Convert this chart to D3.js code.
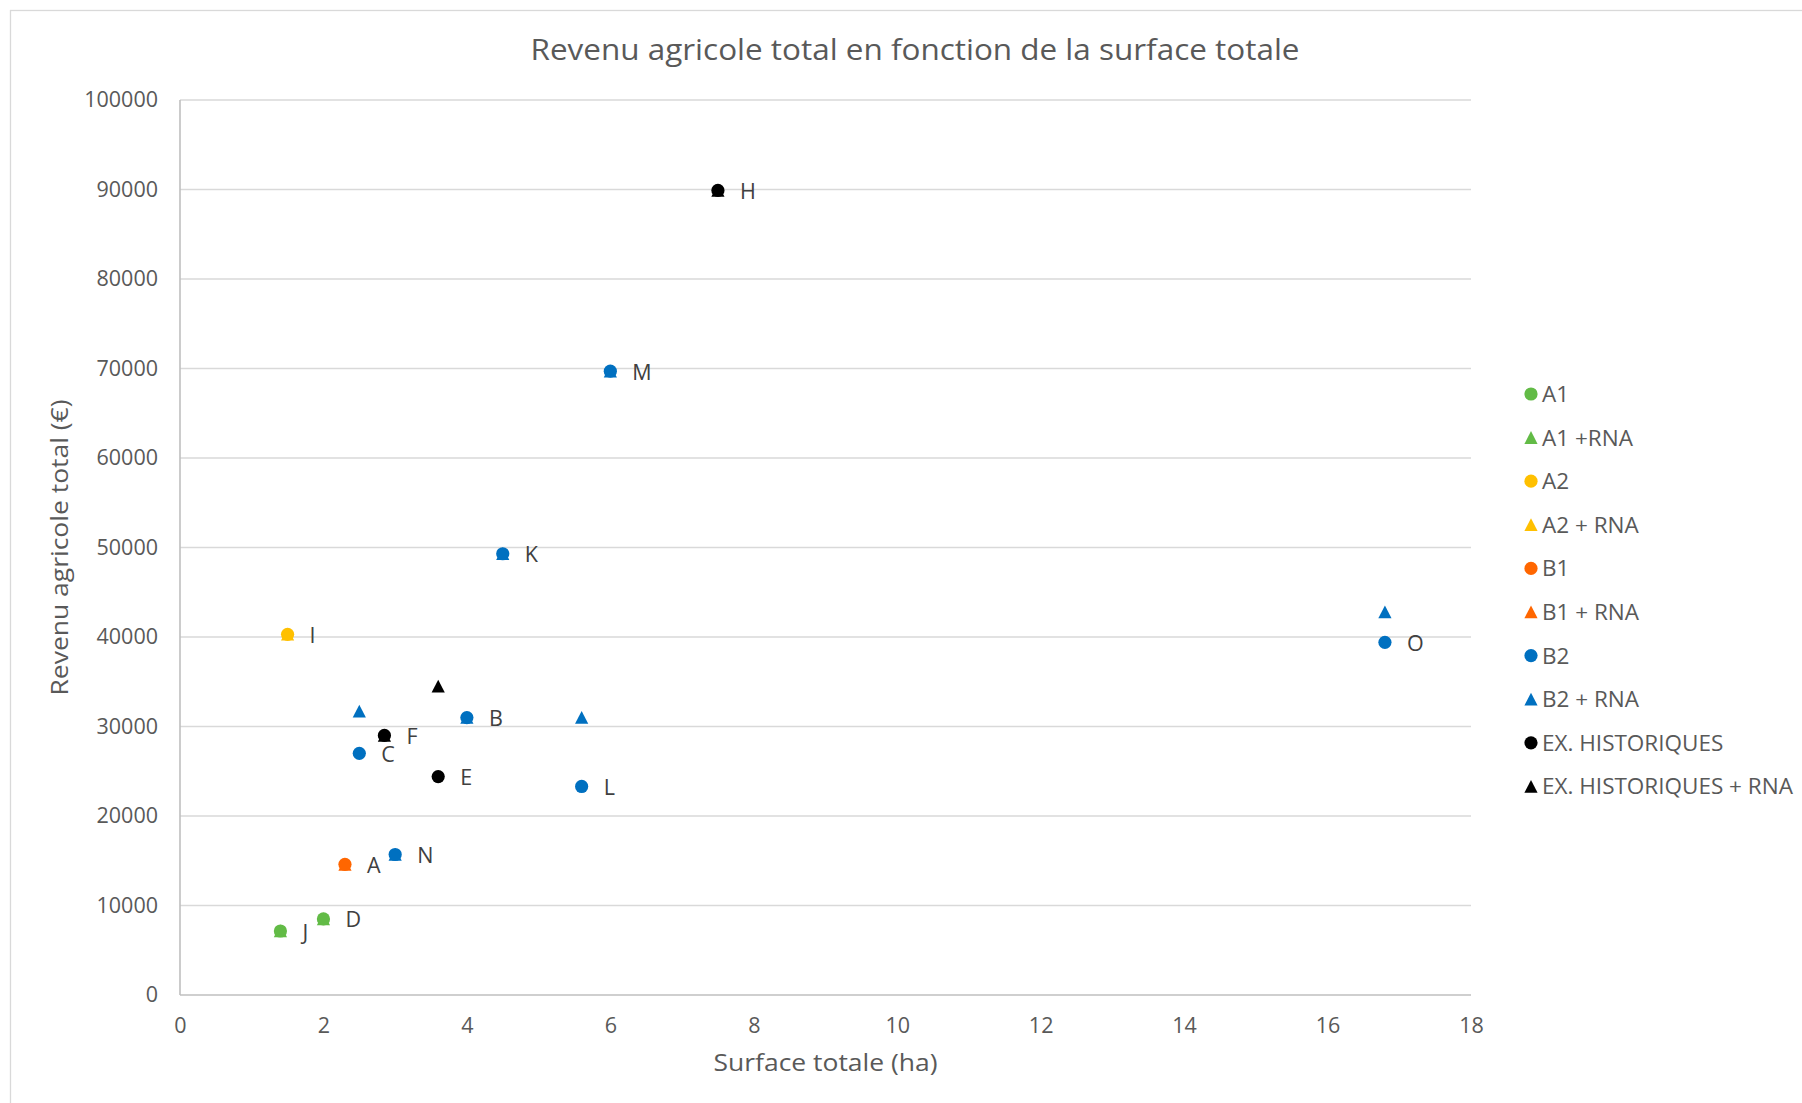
<!DOCTYPE html>
<html>
<head>
<meta charset="utf-8">
<script src="https://cdn.jsdelivr.net/npm/d3@7"></script>
<style>
  body { margin: 0; background: #fff; }
  text { font-family: "Open Sans", sans-serif; fill: #595959; }
</style>
</head>
<body>
<svg id="chart"></svg>
<script>
// farms, one circle each (revenu) and one triangle (revenu + RNA)
const farms = ["A", "B", "C", "D", "E", "F", "H", "I", "J", "K", "L", "M", "N", "O"];
const farmGroup = ["B1", "B2", "B2", "A1", "EX. HISTORIQUES", "EX. HISTORIQUES", "EX. HISTORIQUES",
                   "A2", "A1", "B2", "B2", "B2", "B2", "B2"];
const surface = [2.3, 4.0, 2.5, 2.0, 3.6, 2.85, 7.5, 1.5, 1.4, 4.5, 5.6, 6.0, 3.0, 16.8];
const revenu = [14600, 31000, 27000, 8500, 24400, 29000, 89900, 40300, 7150, 49300, 23300, 69700, 15700, 39400];
const revenuRNA = [14600, 31000, 31700, 8500, 34500, 29000, 89900, 40300, 7150, 49300, 31000, 69700, 15700, 42800];

const groups = ["A1", "A2", "B1", "B2", "EX. HISTORIQUES"];
const groupColors = ["#62bb46", "#ffc000", "#ff6600", "#0070c0", "#000000"];
const legendNames = ["A1", "A1 +RNA", "A2", "A2 + RNA", "B1", "B1 + RNA", "B2", "B2 + RNA",
                     "EX. HISTORIQUES", "EX. HISTORIQUES + RNA"];

const xTicks = [0, 2, 4, 6, 8, 10, 12, 14, 16, 18];
const yTicks = [0, 10000, 20000, 30000, 40000, 50000, 60000, 70000, 80000, 90000, 100000];

const W = 1802, H = 1103;
const margin = { top: 100, right: 331, bottom: 108, left: 180 };

const svg = d3.select("#chart").attr("width", W).attr("height", H);

// chart area border
svg.append("rect")
  .attr("x", 10.5).attr("y", 10.5)
  .attr("width", W).attr("height", H)
  .attr("fill", "none").attr("stroke", "#d9d9d9").attr("stroke-width", 1.3);

const x = d3.scaleLinear().domain([0, 18]).range([margin.left, W - margin.right]);
const y = d3.scaleLinear().domain([0, 100000]).range([H - margin.bottom, margin.top]);
const color = d3.scaleOrdinal().domain(groups).range(groupColors);

// gridlines
svg.append("g")
  .selectAll("line")
  .data(yTicks)
  .join("line")
  .attr("x1", x(0)).attr("x2", x(18))
  .attr("y1", d => y(d)).attr("y2", d => y(d))
  .attr("stroke", d => d === 0 ? "#bfbfbf" : "#d9d9d9")
  .attr("stroke-width", 1.6);

svg.append("line")
  .attr("x1", x(0)).attr("x2", x(0))
  .attr("y1", y(0)).attr("y2", y(100000))
  .attr("stroke", "#bfbfbf").attr("stroke-width", 1.6);

// axes
const yAxis = svg.append("g")
  .attr("transform", `translate(${x(0)},0)`)
  .call(d3.axisLeft(y).tickValues(yTicks).tickSize(0).tickPadding(22).tickFormat(d3.format("d")));
yAxis.select(".domain").remove();
yAxis.selectAll("text").attr("font-size", 21.5).attr("fill", "#595959");

const xAxis = svg.append("g")
  .attr("transform", `translate(0,${y(0)})`)
  .call(d3.axisBottom(x).tickValues(xTicks).tickSize(0).tickPadding(23).tickFormat(d3.format("d")));
xAxis.select(".domain").remove();
xAxis.selectAll("text").attr("font-size", 21.5).attr("fill", "#595959");

// titles
svg.append("text")
  .attr("x", 915).attr("y", 60)
  .attr("text-anchor", "middle")
  .attr("font-size", 29)
  .attr("textLength", 769).attr("lengthAdjust", "spacingAndGlyphs")
  .text("Revenu agricole total en fonction de la surface totale");

svg.append("text")
  .attr("x", (x(0) + x(18)) / 2).attr("y", 1071)
  .attr("text-anchor", "middle")
  .attr("font-size", 23)
  .attr("textLength", 224).attr("lengthAdjust", "spacingAndGlyphs")
  .text("Surface totale (ha)");

svg.append("text")
  .attr("transform", `translate(68,${(y(0) + y(100000)) / 2}) rotate(-90)`)
  .attr("text-anchor", "middle")
  .attr("font-size", 24)
  .attr("textLength", 296).attr("lengthAdjust", "spacingAndGlyphs")
  .text("Revenu agricole total (€)");

// markers
const triPath = "M0,-6.5L6.6,6.3L-6.6,6.3Z";
const idx = d3.range(farms.length);

svg.append("g")
  .selectAll("path")
  .data(idx)
  .join("path")
  .attr("d", triPath)
  .attr("transform", i => `translate(${x(surface[i])},${y(revenuRNA[i])})`)
  .attr("fill", i => color(farmGroup[i]));

svg.append("g")
  .selectAll("circle")
  .data(idx)
  .join("circle")
  .attr("cx", i => x(surface[i]))
  .attr("cy", i => y(revenu[i]))
  .attr("r", 6.6)
  .attr("fill", i => color(farmGroup[i]));

svg.append("g")
  .selectAll("text")
  .data(idx)
  .join("text")
  .attr("x", i => x(surface[i]) + 22)
  .attr("y", i => y(revenu[i]) + 8.5)
  .attr("font-size", 21.5)
  .style("fill", "#404040")
  .text(i => farms[i]);

// legend
const legend = svg.append("g")
  .selectAll("g")
  .data(legendNames)
  .join("g")
  .attr("transform", (d, i) => `translate(1531,${394 + i * 43.6})`);

legend.each(function (d, i) {
  const g = d3.select(this);
  const c = groupColors[Math.floor(i / 2)];
  if (i % 2 === 0) g.append("circle").attr("r", 6.6).attr("fill", c);
  else g.append("path").attr("d", triPath).attr("fill", c);
  g.append("text")
    .attr("x", 11).attr("y", 8)
    .attr("font-size", 22.5)
    .style("white-space", "pre")
    .text(d);
});
</script>
</body>
</html>
